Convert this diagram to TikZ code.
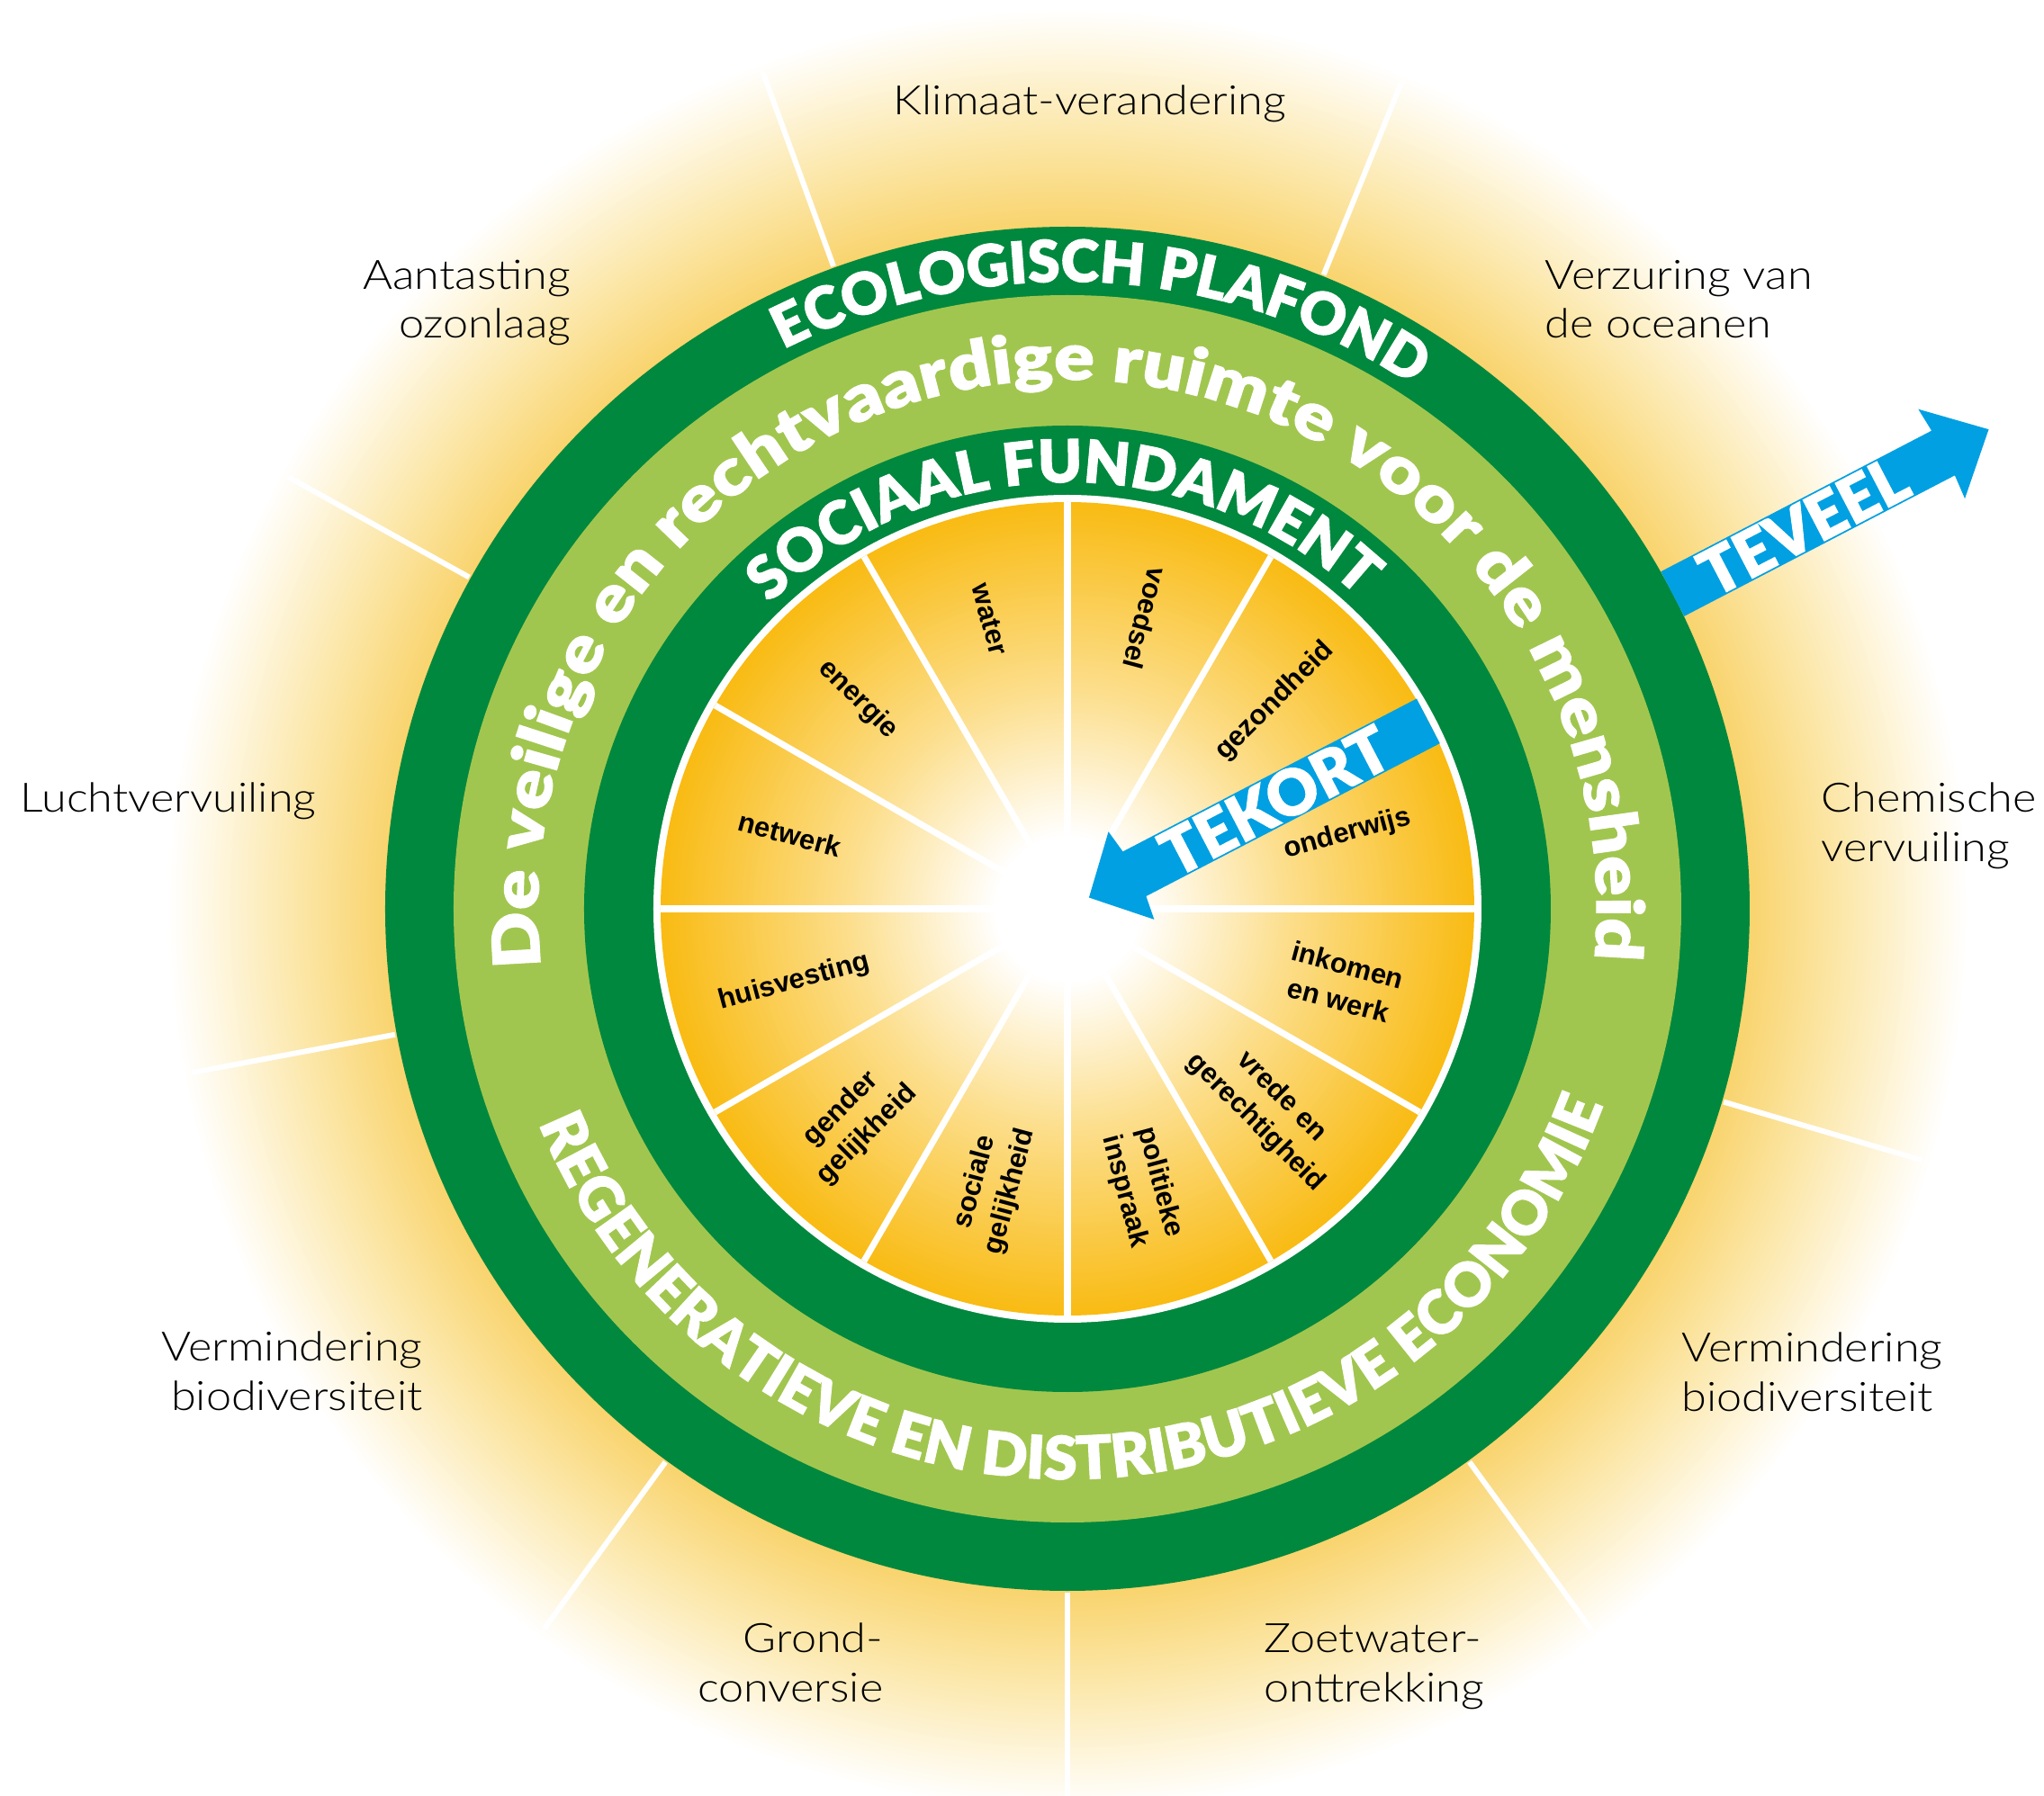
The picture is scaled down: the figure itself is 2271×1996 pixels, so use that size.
\documentclass[tikz,border=0pt]{standalone}
\usepackage{fontspec}
\usetikzlibrary{decorations.text}

\IfFontExistsTF{Lato Light}{\newfontfamily\lblfont{Lato Light}[FakeStretch=1.12]}{%
  \IfFontExistsTF{Fira Sans Light}{\newfontfamily\lblfont{Fira Sans Light}}{\newfontfamily\lblfont{Fira Sans}}}
\IfFontExistsTF{Lato Black}{\newfontfamily\arcfont{Lato Black}[FakeBold=1.5]
    \newfontfamily\arcwide{Lato Black}[FakeBold=1.5, FakeStretch=1.15]}{%
  \IfFontExistsTF{Fira Sans Black}{\newfontfamily\arcfont{Fira Sans Black}}{%
    \IfFontExistsTF{Fira Sans ExtraBold}{\newfontfamily\arcfont{Fira Sans ExtraBold}}{\newfontfamily\arcfont{Fira Sans}[FakeBold=4]}}%
  \let\arcwide\arcfont}
\newfontfamily\wedgefont{Liberation Sans}

\definecolor{dgreen}{RGB}{0,136,62}
\definecolor{lgreen}{RGB}{161,198,79}
\definecolor{arrowblue}{RGB}{0,160,226}
\definecolor{sunrim}{RGB}{249,187,19}
\definecolor{sunmid}{RGB}{252,222,140}
\definecolor{glowin}{RGB}{249,212,110}
\definecolor{glowmid}{RGB}{252,232,172}

% the path's box is the middle 50bp of the shading
\pgfdeclareradialshading{glow}{\pgfpointorigin}{color(0bp)=(glowin); color(18.95bp)=(glowin); color(21.6bp)=(glowmid); color(25bp)=(white); color(50bp)=(white)}
\pgfdeclareradialshading{sun}{\pgfpointorigin}{color(0bp)=(white); color(4.4bp)=(white); color(13.5bp)=(sunmid); color(25bp)=(sunrim); color(50bp)=(sunrim)}

\tikzset{
  bound/.style={white, line width=1.7pt},
  spoke/.style={white, line width=2pt},
  wedgelabel/.style={font=\wedgefont\bfseries\fontsize{8.8}{11.5}\selectfont, align=center, inner sep=0pt},
  ecolabel/.style={font=\lblfont\fontsize{12.8}{15.6}\selectfont, inner sep=0pt},
  arrowtext/.style={font=\arcfont\fontsize{20}{20}\selectfont, text=white, inner sep=0pt},
}

\begin{document}
\begin{tikzpicture}[x=0.01cm, y=0.01cm]
  \useasboundingbox (-1186,-986) rectangle (1085,1010);
  \fill[white] (-1186,-986) rectangle (1085,1010);

  % Glow and boundaries
  \shade[shading=glow] (0,0) circle[radius=1000];
  \foreach \a in {110,68,151,-16.4,-54,-90,-126,-169.4}
    \draw[bound] (\a:760) -- (\a:990);

  % Rings
  \fill[dgreen] (0,0) circle[radius=758];
  \fill[lgreen] (0,0) circle[radius=682];
  \fill[dgreen] (0,0) circle[radius=537];
  \fill[white] (0,0) circle[radius=460];
  \shade[shading=sun] (0,0) circle[radius=452];
  \foreach \a in {0,30,...,330}
    \draw[spoke] (0,0) -- (\a:452);

  % Social foundation
  \foreach \a/\r/\rot/\txt in {105/333/-75/water, 135/329/-45/energie,
      165/319/-15/netwerk, 195/314/15/huisvesting,
      225/335/45/{gender\\gelijkheid}, 255/320/75/{sociale\\gelijkheid},
      285/320/-75/{politieke\\inspraak}, 315/316/-45/{vrede en\\gerechtigheid},
      345/317/-15/{inkomen\\en werk}, 15/322/15/onderwijs,
      45/326/45/gezondheid, 75/334/-105/voedsel}
    \node[wedgelabel, rotate=\rot] (w\a) at (\a:\r) {\txt};

  % Curved titles
  \path[decorate, decoration={text along path, text align=center,
      text={|\arcfont\fontsize{18.3}{19}\selectfont\color{white}|ECOLOGISCH PLAFOND}}]
    (186.7:697) arc[start angle=186.7, end angle=-13.3, radius=697];
  \path[decorate, decoration={text along path, text align=center,
      text={|\arcwide\fontsize{20.5}{21}\selectfont\color{white}|De veilige en rechtvaardige ruimte voor de mensheid}}]
    (200.4:588) arc[start angle=200.4, end angle=-19.6, radius=588];
  \path[decorate, decoration={text along path, text align=center,
      text={|\arcfont\fontsize{18.7}{19}\selectfont\color{white}|SOCIAAL FUNDAMENT}}]
    (190.6:474) arc[start angle=190.6, end angle=-9.4, radius=474];
  \path[decorate, decoration={text along path, text align=center,
      text={|\arcfont\fontsize{18.9}{19}\selectfont\color{white}|REGENERATIEVE EN DISTRIBUTIEVE ECONOMIE}}]
    (190:634) arc[start angle=190, end angle=352, radius=634];

  % Arrows
  \begin{scope}[rotate=27.5]
    \fill[arrowblue] (452,28) -- (84,28) -- (80,55) -- (27,0) -- (80,-55) -- (84,-28) -- (452,-28) -- cycle;
    \fill[arrowblue] (758,28) -- (1097,28) -- (1095,56) -- (1154,0) -- (1095,-56) -- (1097,-28) -- (758,-28) -- cycle;
  \end{scope}
  \node[arrowtext, rotate=27.5] (tekort) at (27.5:260) {TEKORT};
  \node[arrowtext, rotate=27.5] (teveel) at (27.5:922) {TEVEEL};

  % Ecological ceiling
  \node[ecolabel, anchor=base] (klimaat) at (25,882) {Klimaat-verandering};
  \node[ecolabel, anchor=base east, align=right] (ozon) at (-551,634) {Aantasting\\ozonlaag};
  \node[ecolabel, anchor=base west, align=left] (oceaan) at (530,634) {Verzuring van\\de oceanen};
  \node[ecolabel, anchor=base west] (lucht) at (-1164,107) {Luchtvervuiling};
  \node[ecolabel, anchor=base west, align=left] (chemie) at (837,53) {Chemische\\vervuiling};
  \node[ecolabel, anchor=base east, align=right] (biolinks) at (-716,-557) {Vermindering\\biodiversiteit};
  \node[ecolabel, anchor=base west, align=left] (biorechts) at (682,-558) {Vermindering\\biodiversiteit};
  \node[ecolabel, anchor=base east, align=right] (grond) at (-204,-881) {Grond-\\conversie};
  \node[ecolabel, anchor=base west, align=left] (zoetwater) at (218,-881) {Zoetwater-\\onttrekking};
\end{tikzpicture}
\end{document}
